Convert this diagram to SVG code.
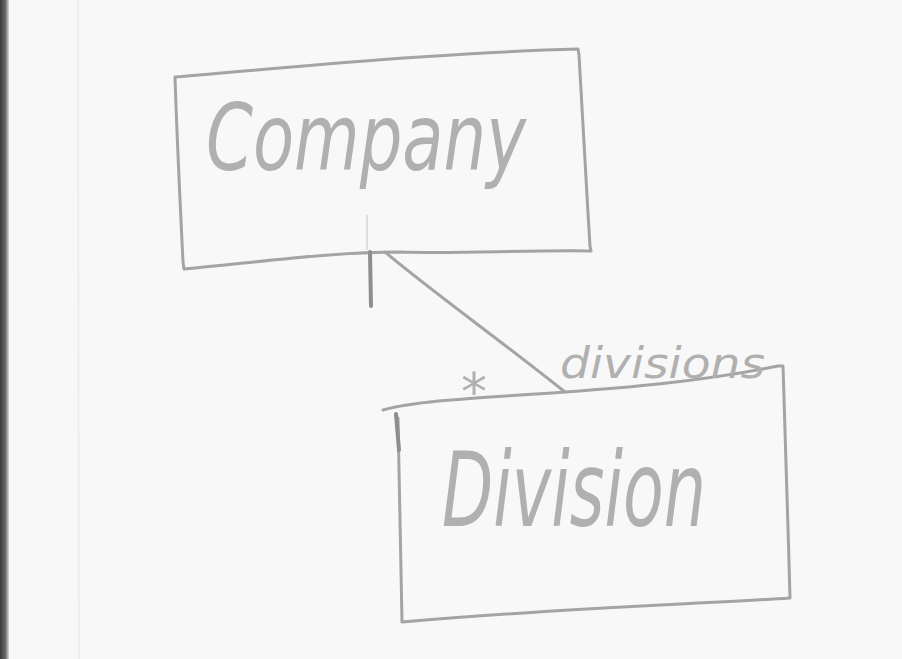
<svg xmlns="http://www.w3.org/2000/svg" width="902" height="659" viewBox="0 0 902 659">
  <defs>
    <linearGradient id="edge" x1="0" y1="0" x2="1" y2="0">
      <stop offset="0" stop-color="#3a3a3a"/>
      <stop offset="0.6" stop-color="#6a6a6a"/>
      <stop offset="1" stop-color="#d8d8d8"/>
    </linearGradient>
  </defs>
  <style>
    .pencil { fill: none; stroke: #a4a4a4; stroke-width: 3; stroke-linecap: round; stroke-linejoin: round; }
    .dark { stroke: #8e8e8e; stroke-width: 4; }
    .faint { stroke: #d4d4d4; stroke-width: 1.5; }
    .hand { fill: #b0b0b0; font-family: "DejaVu Sans", "Liberation Sans", sans-serif; font-style: italic; font-weight: 300; }
  </style>

  <!-- paper -->
  <rect width="902" height="659" fill="#f8f8f8"/>
  <rect x="0" y="0" width="9" height="659" fill="url(#edge)"/>
  <line x1="78" y1="0" x2="79" y2="659" stroke="#ebebeb" stroke-width="1.5"/>

  <g id="company">
    <path class="pencil" d="M175,77 C260,70 330,63 420,57 C480,53 540,50 578,49 L579,55 C582,110 586,180 590,246 L591,251 C520,250 460,254 400,252 C330,252 260,262 184,269 L183,262 C180,200 177,140 175,77 Z"/>
    <text class="hand" x="206" y="170" font-size="92" textLength="320" lengthAdjust="spacingAndGlyphs">Company</text>
  </g>

  <g id="division">
    <path class="pencil" d="M383,410 C420,400 480,398 565,392 C620,388 700,382 778,366 L783,366 C785,440 788,520 790,598 C700,604 560,608 402,622 C401,560 399,480 398,418"/>
    <path class="pencil dark" d="M396,414 L399,450"/>
    <text class="hand" x="442" y="526" font-size="104" textLength="264" lengthAdjust="spacingAndGlyphs">Division</text>
  </g>

  <g id="connectors">
    <path class="faint" d="M367,215 L367,250"/>
    <path class="pencil" d="M385,252 C430,290 500,340 565,392"/>
    <path class="pencil dark" d="M370,252 L371,306"/>
    <text class="hand" x="461" y="410" font-size="52">*</text>
    <text class="hand" x="560" y="378" font-size="42" textLength="205" lengthAdjust="spacingAndGlyphs">divisions</text>
  </g>
</svg>
